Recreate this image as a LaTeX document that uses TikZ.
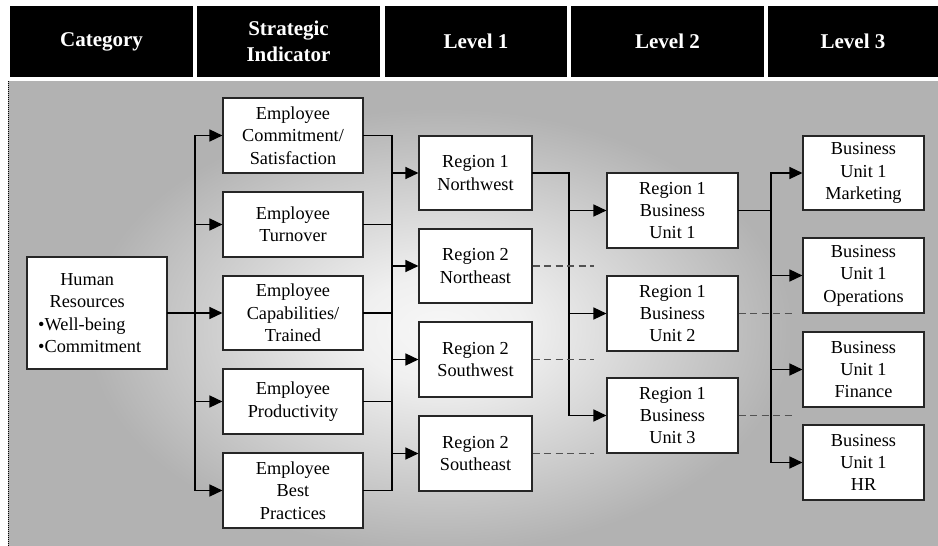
\documentclass[tikz,border=0pt]{standalone}
\usepackage{fontspec}
\setmainfont{Liberation Serif}
\usetikzlibrary{arrows.meta}
% soft light spot behind the chart
\pgfdeclareradialshading{panelglow}{\pgfpoint{0bp}{0bp}}{%
  color(0bp)=(white!97!black);
  color(6bp)=(white!94!black);
  color(25bp)=(black!30);
  color(50bp)=(black!30)}
\begin{document}
\begin{tikzpicture}[x=1pt,y=-1pt,
  hdr/.style={fill=black, text=white, inner sep=0pt, align=center,
    minimum height=71pt, font=\fontsize{21}{21}\selectfont\bfseries},
  box/.style={draw=black!85, line width=1.1pt, fill=white, align=center,
    inner sep=0pt, font=\fontsize{18.3}{22.4}\selectfont},
  wire/.style={line width=1.4pt, black, line cap=rect},
  arr/.style={line width=1.4pt, black, -{Triangle[length=13pt,width=12pt]}},
  dashwire/.style={line width=1.4pt, black!68, dash pattern=on 7pt off 4.5pt},
]
\useasboundingbox (0,0) rectangle (938,546);

% column headers
\node[hdr, minimum width=183pt] (hcat) at (101.5,41.5) {\raisebox{-2pt}{Category}};
\node[hdr, minimum width=183pt] (hsi)  at (288.5,41.5) {Strategic\\[5pt]Indicator};
\node[hdr, minimum width=182pt] (hl1)  at (476,41.5)   {Level 1};
\node[hdr, minimum width=193pt] (hl2)  at (667.5,41.5) {Level 2};
\node[hdr, minimum width=170pt] (hl3)  at (853,41.5)   {Level 3};

% shaded panel
\fill[black!30] (8,81) rectangle (938,546);
\begin{scope}
  \clip (8,81) rectangle (938,546);
  \shade[shading=panelglow] (90,110) rectangle (790,550);
\end{scope}
\draw[black, line width=1pt, densely dotted] (8,81) -- (8,546);

% category
\node[box, minimum width=140pt, minimum height=112pt] (cat) at (97,313) {};
\node[inner sep=0pt, anchor=west, align=left,
  font=\fontsize{18.3}{22.4}\selectfont] (cattext) at (38,313)
  {\makebox[98pt]{Human}\\\makebox[98pt]{Resources}\\•Well-being\\•Commitment};

% strategic indicators
\node[box, minimum width=140pt, minimum height=75pt] (si1) at (293,135.5) {Employee\\Commitment/\\Satisfaction};
\node[box, minimum width=140pt, minimum height=65pt] (si2) at (293,224.5) {Employee\\Turnover};
\node[box, minimum width=140pt, minimum height=74pt] (si3) at (293,313)   {Employee\\Capabilities/\\Trained};
\node[box, minimum width=140pt, minimum height=65pt] (si4) at (293,401.5) {Employee\\Productivity};
\node[box, minimum width=140pt, minimum height=75pt] (si5) at (293,490.5) {Employee\\Best\\Practices};

% level 1
\node[box, minimum width=113pt, minimum height=74pt] (nw) at (475.5,173)   {Region 1\\Northwest};
\node[box, minimum width=113pt, minimum height=74pt] (ne) at (475.5,266)   {Region 2\\Northeast};
\node[box, minimum width=113pt, minimum height=75pt] (sw) at (475.5,359.5) {Region 2\\Southwest};
\node[box, minimum width=113pt, minimum height=75pt] (se) at (475.5,453.5) {Region 2\\Southeast};

% level 2
\node[box, minimum width=131pt, minimum height=75pt] (u1) at (672.5,210.5) {Region 1\\Business\\Unit 1};
\node[box, minimum width=131pt, minimum height=75pt] (u2) at (672.5,313.5) {Region 1\\Business\\Unit 2};
\node[box, minimum width=131pt, minimum height=75pt] (u3) at (672.5,415.5) {Region 1\\Business\\Unit 3};

% level 3
\node[box, minimum width=121pt, minimum height=74pt] (mkt) at (863.5,173)   {Business\\Unit 1\\Marketing};
\node[box, minimum width=121pt, minimum height=75pt] (ops) at (863.5,275.5) {Business\\Unit 1\\Operations};
\node[box, minimum width=121pt, minimum height=75pt] (fin) at (863.5,369.5) {Business\\Unit 1\\Finance};
\node[box, minimum width=121pt, minimum height=75pt] (hrb) at (863.5,462.5) {Business\\Unit 1\\HR};

% bus positions
\coordinate (busA) at (195,313);
\coordinate (busB) at (392,313);
\coordinate (busC) at (569,173);
\coordinate (busD) at (771,210);
\coordinate (endA) at (594,0);
\coordinate (endB) at (793,0);

% category -> indicators
\draw[wire] (cat.east) -- (cat.east -| busA);
\draw[wire] (si1.west -| busA) -- (si5.west -| busA);
\foreach \n in {si1,si2,si3,si4,si5}
  \draw[arr] (\n.west -| busA) -- (\n.west);

% indicators -> level 1
\foreach \n in {si1,si2,si3,si4,si5}
  \draw[wire] (\n.east) -- (\n.east -| busB);
\draw[wire] (si1.east -| busB) -- (si5.east -| busB);
\foreach \n in {nw,ne,sw,se}
  \draw[arr] (\n.west -| busB) -- (\n.west);

% level 1 -> level 2
\draw[wire] (nw.east) -- (nw.east -| busC) -- (u3.west -| busC);
\foreach \n in {u1,u2,u3}
  \draw[arr] (\n.west -| busC) -- (\n.west);

% level 2 -> level 3
\draw[wire] (u1.east) -- (u1.east -| busD);
\draw[wire] (mkt.west -| busD) -- (hrb.west -| busD);
\foreach \n in {mkt,ops,fin,hrb}
  \draw[arr] (\n.west -| busD) -- (\n.west);

% branches not expanded
\foreach \n in {ne,sw,se}
  \draw[dashwire] (\n.east) -- (\n.east -| endA);
\foreach \n in {u2,u3}
  \draw[dashwire] (\n.east) -- (\n.east -| endB);
\end{tikzpicture}
\end{document}
